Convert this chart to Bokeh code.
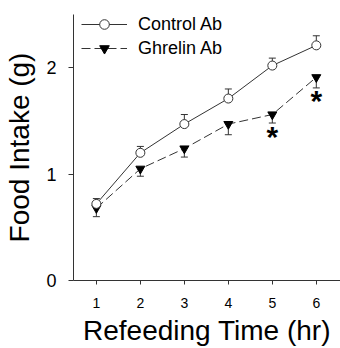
from bokeh.plotting import figure
from bokeh.models import Whisker, ColumnDataSource, Legend, LegendItem, FixedTicker, TeeHead
from bokeh.core.properties import value
from bokeh.embed import file_html
from bokeh.resources import INLINE

hours = [1, 2, 3, 4, 5, 6]
control_mean = [0.72, 1.20, 1.47, 1.71, 2.02, 2.21]
control_sem = [0.05, 0.06, 0.09, 0.09, 0.07, 0.09]
ghrelin_mean = [0.68, 1.05, 1.24, 1.47, 1.56, 1.91]
ghrelin_sem = [0.08, 0.07, 0.08, 0.10, 0.08, 0.10]
star_x = [5, 6]
star_y = [1.38, 1.72]
y_ticks = [0, 1, 2]
x_title = "Refeeding Time (hr)"
y_title = "Food Intake (g)"

FONT = "Liberation Sans"
LC = "#333333"

p = figure(width=340, height=348, x_range=(0.48, 6.55), y_range=(0, 2.5),
           output_backend="svg", toolbar_location=None,
           min_border_left=73, min_border_right=0, min_border_top=14, min_border_bottom=68)
p.outline_line_color = None
p.xgrid.visible = False
p.ygrid.visible = False

c_src = ColumnDataSource(dict(x=hours, y=control_mean,
                              up=[m + s for m, s in zip(control_mean, control_sem)]))
g_src = ColumnDataSource(dict(x=hours, y=ghrelin_mean,
                              lo=[m - s for m, s in zip(ghrelin_mean, ghrelin_sem)]))

wc = Whisker(source=c_src, base="x", lower="y", upper="up", line_color=LC, line_width=1,
             upper_head=TeeHead(size=7, line_color=LC, line_width=1), lower_head=None)
wg = Whisker(source=g_src, base="x", lower="lo", upper="y", line_color=LC, line_width=1,
             lower_head=TeeHead(size=7, line_color=LC, line_width=1), upper_head=None)
p.add_layout(wc)
p.add_layout(wg)

gl = p.line("x", "y", source=g_src, line_color=LC, line_width=1, line_dash="9 4")
cl = p.line("x", "y", source=c_src, line_color=LC, line_width=1)
gm = p.scatter("x", "y", source=g_src, marker="inverted_triangle", size=9,
               fill_color="black", line_color="black")
cm = p.scatter("x", "y", source=c_src, marker="circle", size=9,
               fill_color="white", line_color=LC, line_width=1)

p.text(x=star_x, y=star_y, text=["*", "*"], text_font=value(FONT), text_font_size="30px",
       text_font_style="bold", text_align="center", text_baseline="middle",
       text_color="black", y_offset=3)

legend = Legend(items=[LegendItem(label="Control Ab", renderers=[cl, cm]),
                       LegendItem(label="Ghrelin Ab", renderers=[gl, gm])],
                location=(8, 220), orientation="vertical")
legend.glyph_width = 46
legend.glyph_height = 24
legend.label_height = 24
legend.spacing = 0
legend.padding = 0
legend.margin = 0
legend.label_standoff = 11
legend.border_line_color = None
legend.background_fill_alpha = 0
legend.label_text_font = FONT
legend.label_text_font_size = "18px"
legend.label_text_color = "black"
p.add_layout(legend)

p.xaxis.ticker = FixedTicker(ticks=hours)
p.yaxis.ticker = FixedTicker(ticks=y_ticks)
for ax in (p.xaxis[0], p.yaxis[0]):
    ax.axis_line_color = LC
    ax.major_tick_line_color = LC
    ax.minor_tick_line_color = None
    ax.major_tick_in = 0
    ax.major_label_text_font = FONT
    ax.major_label_text_color = "black"
    ax.axis_label_text_font = FONT
    ax.axis_label_text_font_style = "normal"
    ax.axis_label_text_color = "black"
    ax.axis_label_text_font_size = "28px"

p.xaxis.major_tick_out = 4
p.xaxis.major_label_standoff = 13
p.xaxis.major_label_text_font_size = "14px"
p.xaxis.axis_label = x_title
p.xaxis.axis_label_standoff = 4

p.yaxis.major_tick_out = 5
p.yaxis.major_label_standoff = 12
p.yaxis.major_label_text_font_size = "18px"
p.yaxis.axis_label = y_title
p.yaxis.axis_label_standoff = 8

open("out.html", "w").write(file_html(p, INLINE))
